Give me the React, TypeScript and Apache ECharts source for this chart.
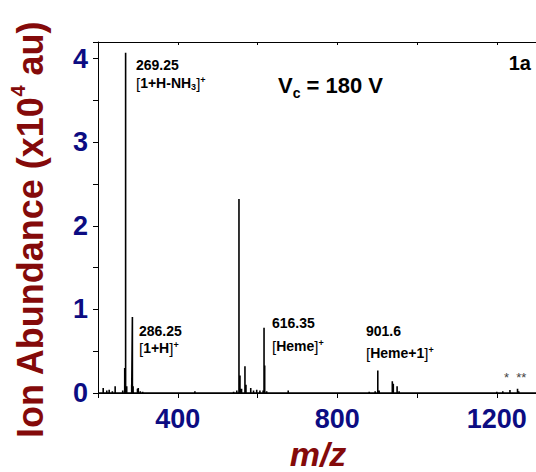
import React, { useEffect, useRef } from "react";
import * as echarts from "echarts";

// Peak list (m/z, abundance in units of 1e4 au)
const peakMz = [
  213, 222, 228, 236, 243, 262, 267, 269.25, 272, 284.5, 286.25, 288, 299, 301, 306, 312, 330, 345, 371,
  443, 500, 520, 540, 548, 553.5, 556, 560, 568.5, 571, 583, 590, 598, 606, 614, 616.35, 618, 623, 640,
  677, 700, 760, 820, 860, 880, 895, 901.6, 905, 938, 940.5, 950, 955, 1000, 1060, 1200, 1215, 1233,
  1252, 1255, 1270,
];
const peakAbundance = [
  0.06, 0.03, 0.04, 0.02, 0.08, 0.03, 0.3, 4.07, 0.08, 0.1, 0.91, 0.08, 0.05, 0.06, 0.02, 0.015, 0.01, 0.01, 0.01,
  0.02, 0.01, 0.01, 0.015, 0.03, 2.32, 0.21, 0.05, 0.32, 0.1, 0.06, 0.03, 0.04, 0.03, 0.03, 0.78, 0.33, 0.02, 0.01,
  0.03, 0.01, 0.01, 0.01, 0.01, 0.015, 0.02, 0.27, 0.03, 0.14, 0.11, 0.08, 0.02, 0.01, 0.01, 0.015, 0.02, 0.035,
  0.05, 0.02, 0.01,
];

const xTickLabels = [400, 800, 1200];
const yTickLabels = [0, 1, 2, 3, 4];

const FONT = "'Liberation Sans', Arial, sans-serif";
const NAVY = "#0c0c82";
const DARKRED = "#840a0a";

export default function App() {
  const ref = useRef<HTMLDivElement>(null);
  useEffect(() => {
    if (!ref.current) return;
    const chart = echarts.init(ref.current, null, { renderer: "svg" });

    const stickData: number[][] = [];
    stickData.push([200, 0]);
    peakMz.forEach((m, i) => {
      stickData.push([m, 0]);
      stickData.push([m, peakAbundance[i]]);
      stickData.push([m, 0]);
    });
    stickData.push([1360, 0]);

    const annot = (x: number, y: number, text: string) => ({
      type: "text",
      x,
      y,
      style: {
        text,
        align: "left",
        verticalAlign: "middle",
        fontFamily: FONT,
        fontSize: 14,
        fontWeight: "bold",
        fill: "#000",
        rich: {
          b: { fontSize: 14, fontWeight: "bold", fontFamily: FONT, lineHeight: 16, fill: "#000", verticalAlign: "middle" },
          r: { fontSize: 15, fontWeight: "normal", fontFamily: FONT, lineHeight: 16, fill: "#000", verticalAlign: "middle" },
          sup: { fontSize: 9, fontWeight: "bold", fontFamily: FONT, lineHeight: 9, fill: "#000", verticalAlign: "top" },
          sub: { fontSize: 9, fontWeight: "bold", fontFamily: FONT, lineHeight: 9, fill: "#000", verticalAlign: "bottom" },
        },
      },
    });

    chart.setOption({
      animation: false,
      backgroundColor: "#fff",
      grid: { left: 98, width: 462.6, top: 42, bottom: 79, containLabel: false },
      xAxis: [
        {
          type: "value",
          min: 200,
          max: 1360,
          interval: 200,
          axisLine: { show: true, lineStyle: { color: "#000", width: 1 } },
          axisTick: { show: true, length: 5, lineStyle: { color: "#000" } },
          splitLine: { show: false },
          axisLabel: {
            margin: 12,
            fontFamily: FONT,
            fontSize: 27,
            fontWeight: "bold",
            color: NAVY,
            formatter: (v: number) => (xTickLabels.includes(v) ? String(v) : ""),
          },
        },
        {
          type: "value",
          position: "top",
          min: 200,
          max: 1360,
          interval: 200,
          axisLine: { show: true, onZero: false, lineStyle: { color: "#000", width: 1 } },
          axisTick: { show: true, inside: true, length: 3, lineStyle: { color: "#000" } },
          axisLabel: { show: false },
          splitLine: { show: false },
        },
      ],
      yAxis: {
        type: "value",
        min: 0,
        max: 4.2,
        interval: 0.5,
        axisLine: { show: true, lineStyle: { color: "#000", width: 1 } },
        axisTick: { show: true, length: 5, lineStyle: { color: "#000" } },
        splitLine: { show: false },
        axisLabel: {
          margin: 10,
          fontFamily: FONT,
          fontSize: 27,
          fontWeight: "bold",
          color: NAVY,
          formatter: (v: number) => (yTickLabels.includes(v) ? String(v) : ""),
        },
      },
      series: [
        {
          type: "line",
          xAxisIndex: 0,
          data: stickData,
          showSymbol: false,
          symbol: "none",
          clip: true,
          lineStyle: { color: "#000", width: 1.6, join: "bevel" },
        },
      ],
      graphic: [
        {
          type: "text",
          x: 30,
          y: 230,
          rotation: Math.PI / 2,
          style: {
            text: "{t|Ion Abundance (x10}{s|4}{t| au)}",
            align: "center",
            verticalAlign: "middle",
            rich: {
              t: { fontFamily: FONT, fontSize: 36, fontWeight: "bold", fill: DARKRED, lineHeight: 44, verticalAlign: "middle" },
              s: { fontFamily: FONT, fontSize: 20, fontWeight: "bold", fill: DARKRED, lineHeight: 20, verticalAlign: "top" },
            },
          },
        },
        {
          type: "text",
          x: 318,
          y: 454,
          style: {
            text: "m/z",
            align: "center",
            verticalAlign: "middle",
            fontFamily: FONT,
            fontSize: 34,
            fontWeight: "bold",
            fontStyle: "italic",
            fill: DARKRED,
          },
        },
        annot(136, 65, "{b|269.25}"),
        annot(136, 83, "{r|[}{b|1+H-NH}{sub|3}{r|]}{sup|+}"),
        annot(139, 331, "{b|286.25}"),
        annot(139, 348, "{r|[}{b|1+H}{r|]}{sup|+}"),
        annot(272, 323, "{b|616.35}"),
        annot(272, 346, "{r|[}{b|Heme}{r|]}{sup|+}"),
        annot(366, 331, "{b|901.6}"),
        annot(366, 353, "{r|[}{b|Heme+1}{r|]}{sup|+}"),
        {
          type: "text",
          x: 278,
          y: 85,
          style: {
            text: "{v|V}{c|c}{v| = 180 V}",
            align: "left",
            verticalAlign: "middle",
            rich: {
              v: { fontFamily: FONT, fontSize: 22, fontWeight: "bold", fill: "#000", lineHeight: 30, verticalAlign: "middle" },
              c: { fontFamily: FONT, fontSize: 14, fontWeight: "bold", fill: "#000", lineHeight: 14, verticalAlign: "bottom" },
            },
          },
        },
        {
          type: "text",
          x: 531,
          y: 63,
          style: {
            text: "1a",
            align: "right",
            verticalAlign: "middle",
            fontFamily: FONT,
            fontSize: 20,
            fontWeight: "bold",
            fill: "#000",
          },
        },
        {
          type: "text",
          x: 504,
          y: 377,
          style: {
            text: "*  **",
            align: "left",
            verticalAlign: "middle",
            fontFamily: FONT,
            fontSize: 13,
            fill: "#444",
          },
        },
      ],
    });
    return () => chart.dispose();
  }, []);
  return (
    <div style={{ position: "fixed", left: 0, top: 0, width: 536, height: 472, overflow: "hidden", background: "#fff" }}>
      <div ref={ref} style={{ width: 590, height: 472 }} />
    </div>
  );
}
